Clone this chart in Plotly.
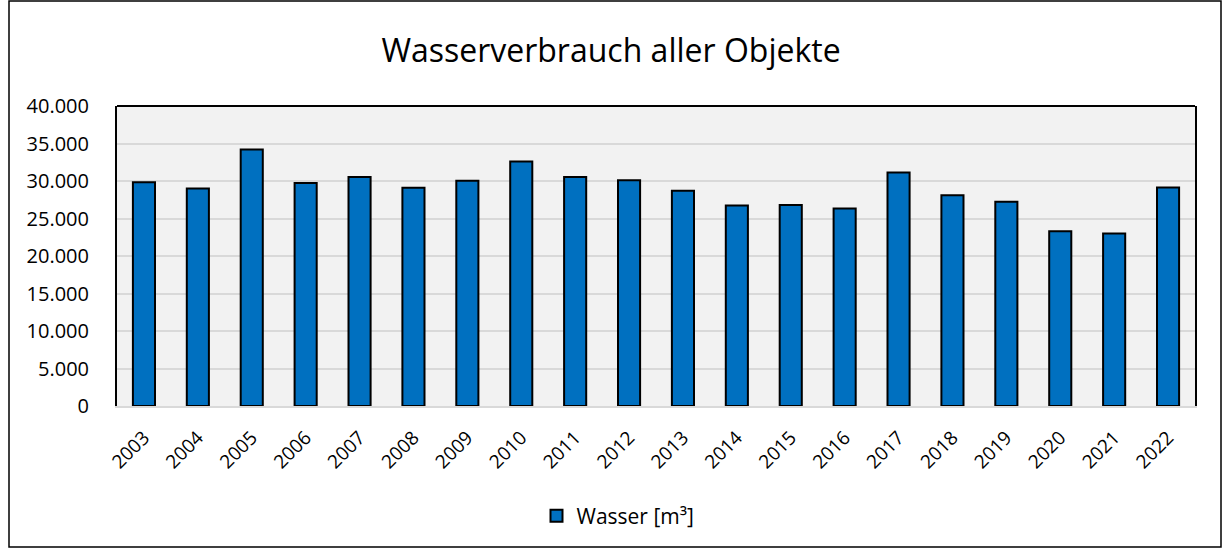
import plotly.graph_objects as go

years = [str(y) for y in range(2003, 2023)]
wasser = [29850, 29000, 34200, 29750, 30550, 29100, 30050, 32600, 30550, 30100,
          28700, 26750, 26800, 26350, 31150, 28100, 27250, 23300, 23000, 29150]
y_ticks = [0, 5000, 10000, 15000, 20000, 25000, 30000, 35000, 40000]

FONT = "Open Sans"
W, H = 1222, 548
L, R, T, B = 117, 27, 106, 142
pw, ph = W - L - R, H - T - B

def px(x):
    return (x - L) / pw

def py(y):
    return (H - B - y) / ph

fig = go.Figure()
fig.add_trace(go.Bar(
    x=years, y=wasser, name="Wasser [m³]",
    marker=dict(color="#0070c0", line=dict(color="#000000", width=2)),
))

fig.update_layout(
    width=W, height=H,
    margin=dict(l=L, r=R, t=T, b=B),
    paper_bgcolor="white", plot_bgcolor="#f2f2f2",
    separators=",.",
    bargap=0.59,
    font=dict(family=FONT, color="#000000"),
    title=dict(text="Wasserverbrauch aller Objekte", x=0.5, xref="container",
               y=1 - 51 / H, yref="container", yanchor="middle", xanchor="center",
               font=dict(family=FONT, size=32, color="#000000")),
    showlegend=True,
    legend=dict(orientation="h", x=px(618), y=py(516), xanchor="center", yanchor="middle",
                font=dict(family=FONT, size=21, color="#000000"),
                bgcolor="rgba(0,0,0,0)", itemwidth=30),
    xaxis=dict(type="category", tickangle=-45, tickfont=dict(family=FONT, size=19),
               showline=True, linecolor="#d9d9d9", linewidth=2, showgrid=False,
               ticks="", ticklabelstandoff=11),
    yaxis=dict(range=[0, 40000], tickvals=y_ticks, tickformat=",d",
               tickfont=dict(family=FONT, size=20),
               showgrid=True, gridcolor="#d9d9d9", gridwidth=2,
               showline=True, linecolor="#000000", linewidth=2, mirror=True,
               ticks="", zeroline=False, ticklabelstandoff=22),
    shapes=[
        dict(type="line", xref="paper", yref="paper", x0=0, x1=1, y0=1, y1=1,
             line=dict(color="#000000", width=2)),
        dict(type="rect", xref="paper", yref="paper",
             x0=px(9), x1=px(1221), y0=py(547), y1=py(1),
             line=dict(color="#000000", width=1.5), layer="below"),
    ],
)

fig.write_html("out.html", config={"displayModeBar": False},
               post_script="document.body.style.margin='0px';")
